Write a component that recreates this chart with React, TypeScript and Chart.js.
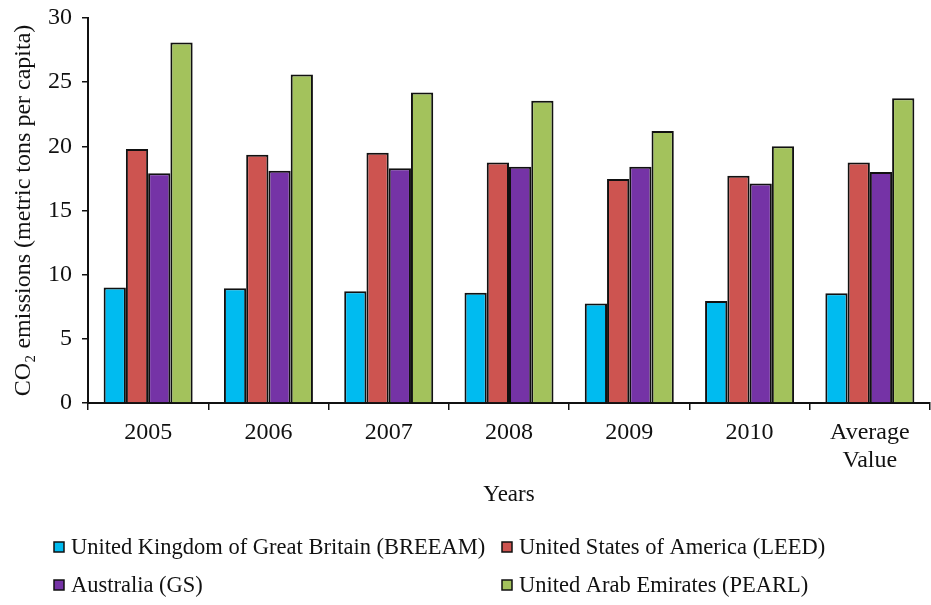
import React, { useEffect, useRef } from "react";
import { Chart, registerables } from "chart.js";

Chart.register(...registerables);

const categories: (string | string[])[] = ["2005", "2006", "2007", "2008", "2009", "2010", ["Average", "Value"]];
const ukBreeam = [9.0, 8.95, 8.7, 8.6, 7.75, 7.95, 8.55];
const usaLeed = [19.8, 19.35, 19.5, 18.75, 17.45, 17.7, 18.75];
const ausGs = [17.9, 18.1, 18.3, 18.4, 18.4, 17.1, 18.0];
const uaePearl = [28.1, 25.6, 24.2, 23.55, 21.2, 20.0, 23.75];
const yTicks = [0, 5, 10, 15, 20, 25, 30];

const seriesLabels = [
  "United Kingdom of Great Britain (BREEAM)",
  "United States of America (LEED)",
  "Australia (GS)",
  "United Arab Emirates (PEARL)",
];
const seriesColors = ["#00BBF0", "#CD5450", "#7533A6", "#A3C25C"];

const FONT = "'Liberation Serif', 'Times New Roman', serif";

const legendPlugin = {
  id: "customLegend",
  afterDraw(chart: any) {
    const ctx = chart.ctx as CanvasRenderingContext2D;
    const ds = chart.data.datasets;
    const cols = [54, 502];
    const rows = [547, 585];
    ctx.save();
    ctx.font = `22.5px ${FONT}`;
    ctx.textBaseline = "middle";
    ds.forEach((d: any, i: number) => {
      const x = cols[i % 2];
      const y = rows[Math.floor(i / 2)];
      ctx.fillStyle = d.backgroundColor;
      ctx.fillRect(x, y - 5, 10, 10);
      ctx.strokeStyle = "#111";
      ctx.lineWidth = 1.5;
      ctx.strokeRect(x, y - 5, 10, 10);
      ctx.fillStyle = "#111";
      ctx.textAlign = "left";
      ctx.fillText(d.label, x + 17, y + 1);
    });
    ctx.restore();
  },
};

export default function App() {
  const ref = useRef<HTMLCanvasElement | null>(null);
  useEffect(() => {
    document.body.style.margin = "0";
    if (!ref.current) return;
    const series = [ukBreeam, usaLeed, ausGs, uaePearl];
    const chart = new Chart(ref.current, {
      type: "bar",
      data: {
        labels: categories as any,
        datasets: series.map((vals, i) => ({
          label: seriesLabels[i],
          data: vals,
          backgroundColor: seriesColors[i],
          borderColor: "#111",
          borderWidth: 2,
          categoryPercentage: 0.74,
          barPercentage: 1.0,
        })),
      },
      options: {
        animation: false,
        responsive: false,
        devicePixelRatio: 1,
        layout: { padding: { top: 18, right: 1, bottom: 93, left: 0 } },
        plugins: {
          legend: { display: false },
          tooltip: { enabled: false },
        },
        scales: {
          x: {
            grid: {
              display: true,
              drawOnChartArea: false,
              drawTicks: true,
              tickLength: 7,
              color: "#111",
              lineWidth: 1.5,
              offset: true,
            },
            border: { display: true, color: "#111", width: 2 },
            ticks: {
              color: "#111",
              font: { family: FONT, size: 24, lineHeight: 1.2 },
              padding: 8,
              maxRotation: 0,
              autoSkip: false,
            },
            title: {
              display: true,
              text: "Years",
              color: "#111",
              font: { family: FONT, size: 23 },
              padding: { top: 0, bottom: 3 },
            },
            afterFit(scale: any) {
              scale.height = 109;
              scale.paddingLeft = 0;
              scale.paddingRight = 0;
            },
          },
          y: {
            min: 0,
            max: 30,
            afterBuildTicks(scale: any) {
              scale.ticks = yTicks.map((v) => ({ value: v }));
            },
            grid: {
              display: true,
              drawOnChartArea: false,
              drawTicks: true,
              tickLength: 6,
              color: "#111",
              lineWidth: 1.5,
            },
            border: { display: true, color: "#111", width: 2 },
            ticks: {
              color: "#111",
              font: { family: FONT, size: 24 },
              padding: 10,
            },
            title: {
              display: true,
              text: "CO₂ emissions (metric tons per capita)",
              color: "#111",
              font: { family: FONT, size: 24 },
              padding: { top: 9, bottom: 0 },
            },
            afterFit(scale: any) {
              scale.width = 88;
              scale.paddingTop = 0;
              scale.paddingBottom = 0;
            },
          },
        },
      },
      plugins: [legendPlugin],
    });
    return () => chart.destroy();
  }, []);
  return (
    <div style={{ width: 931, height: 605 }}>
      <canvas ref={ref} width={931} height={605} style={{ display: "block" }} />
    </div>
  );
}
